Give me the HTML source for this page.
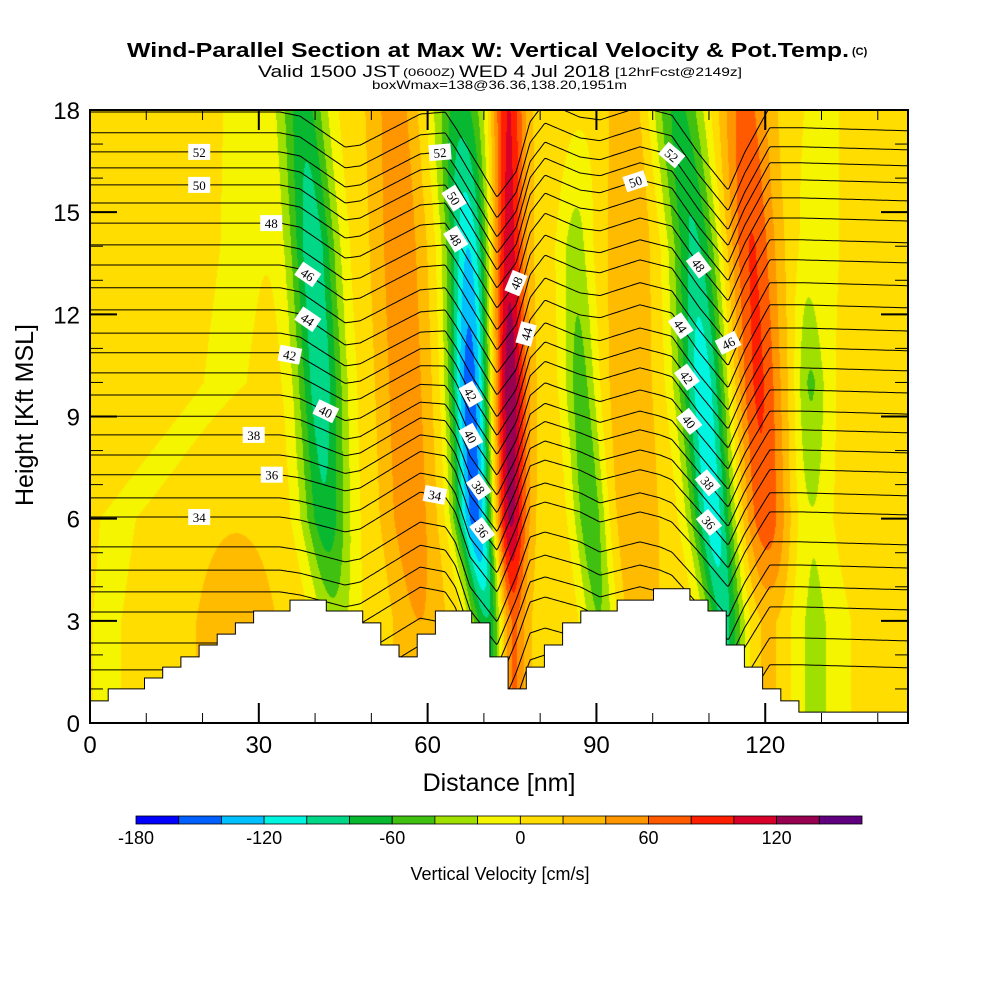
<!DOCTYPE html>
<html><head><meta charset="utf-8">
<style>
html,body{margin:0;padding:0;background:#fff;}
#wrap{position:relative;width:1000px;height:1000px;overflow:hidden;font-family:"Liberation Sans",sans-serif;}
#field{position:absolute;left:90px;top:110px;}
#ov{position:absolute;left:0;top:0;}
</style></head>
<body>
<div id="wrap">
<canvas id="field" width="818" height="613"></canvas>
<svg id="ov" width="1000" height="1000" xmlns="http://www.w3.org/2000/svg">
<defs><clipPath id="pc"><rect x="90" y="110" width="818" height="613"/></clipPath></defs>
<g id="isentropes" clip-path="url(#pc)"></g>
<path id="terrain" fill="#fff" stroke="#000" stroke-width="1"></path>
<g id="clabels"></g>
<g id="ticks"></g>
<rect x="90" y="110" width="818" height="613" fill="none" stroke="#000" stroke-width="2"/>
<g font-family="Liberation Sans, sans-serif" font-weight="bold">
<text x="127" y="57" font-size="20" textLength="722" lengthAdjust="spacingAndGlyphs">Wind-Parallel Section at Max W: Vertical Velocity &amp; Pot.Temp.</text>
<text x="852" y="55" font-size="11">(C)</text>
</g>
<g font-family="Liberation Sans, sans-serif">
<text x="258" y="77" font-size="17" textLength="142" lengthAdjust="spacingAndGlyphs">Valid 1500 JST</text>
<text x="403" y="76" font-size="11" textLength="52" lengthAdjust="spacingAndGlyphs">(0600Z)</text>
<text x="459" y="77" font-size="17" textLength="151" lengthAdjust="spacingAndGlyphs">WED 4 Jul 2018</text>
<text x="615" y="76" font-size="12" textLength="127" lengthAdjust="spacingAndGlyphs">[12hrFcst@2149z]</text>
<text x="372" y="89" font-size="12" textLength="255" lengthAdjust="spacingAndGlyphs">boxWmax=138@36.36,138.20,1951m</text>
</g>
<g id="axlabels" font-family="Liberation Sans, sans-serif" fill="#000"></g>
<text x="499" y="791" font-size="25" text-anchor="middle" font-family="Liberation Sans, sans-serif">Distance [nm]</text>
<text transform="translate(33,415) rotate(-90)" font-size="25" text-anchor="middle" font-family="Liberation Sans, sans-serif">Height [Kft MSL]</text>
<g id="cbar"></g>
<text x="500" y="880" font-size="18" text-anchor="middle" font-family="Liberation Sans, sans-serif">Vertical Velocity [cm/s]</text>
</svg>
</div>
<script>
// ---------- data ----------
const levelColors = ["#0000ff","#0060ff","#00c0ff","#00f5e0","#00d888","#08b830","#40c010","#a0e000","#f5f500","#ffdd00","#ffbb00","#ff9600","#ff5a00","#ff1e00","#d80028","#980050","#600080"];
const cbarTickValues = [-180,-120,-60,0,60,120];
const xTickValues = [0,30,60,90,120];
const yTickValues = [0,3,6,9,12,15,18];
const refKft = [18,14,10,6,3];
const backgroundW = 10;
const bandNames = ["A","B","C","D","E","F","G","H","I","Y1","O1","Y2"];
const bandCenters = [
 [37.9,39.6,40.9,41.8,43.5],[54.2,55.1,56.0,56.9,58.6],[65.8,67.2,67.5,68.4,71.1],[74.3,74.3,74.6,74.6,74.6],
 [87.1,86.2,87.1,88.9,90.6],[96,96,96,96.9,97.7],[104.5,107.5,108.9,110.7,112.8],[116.4,117.6,118.7,120,121.7],
 [127,127,128,128,128],[27.5,27,24,5,3],[26,26,26,26,26],[130,130,129,128,128]];
const bandPeaks = [
 [-80,-105,-105,-85,-40],[40,45,45,45,30],[-80,-130,-165,-160,-100],[95,105,128,122,80],
 [-5,-40,-60,-70,-50],[25,30,30,30,20],[-75,-95,-125,-125,-95],[58,72,75,65,25],
 [0,-5,-40,-15,-25],[-15,-15,-15,-15,-15],[0,0,0,8,22],[-15,-15,-15,-15,-12]];
const bandWidths = [
 [4.4,4.4,4.4,4.4,4],[4.5,4.5,4.5,4.5,4.5],[5,4,3.6,3.6,3.5],[3,3,3,3,2.8],
 [3,3,3,3,3],[4,4,4,4,4],[5,4.5,4.5,4,3.5],[4.5,4.5,4.5,4.5,4.5],
 [2,2,2.5,3,7],[6,6,6,5,4],[8,8,8,8,8],[5,5,5,5,5]];
const thetaLevels = [54,53,52,51,50,49,48,47,46,45,44,43,42,41,40,39,38,37,36,35,34,33,32,31,30,29,28];
const thetaBaseKft = [17.94,17.33,16.77,16.30,15.80,15.27,14.68,14.04,13.45,12.78,12.13,11.45,10.87,10.28,9.63,9.01,8.46,7.87,7.29,6.61,6.05,5.17,4.49,3.85,3.26,2.35,1.56];
const dispNodesNm = [0,33.77,37.32,45.35,48.02,58.68,63.12,64.90,67.53,72.33,75.71,78.2,80.86,87.08,90.63,97.73,101.3,103.4,108.2,113.4,116.4,120.8,126.2,145.4];
const dispUpperKft = [0,0,0.12,1.03,0.97,0.06,0,0.44,1.17,2.50,1.76,0.29,-0.29,0.15,0.23,-0.15,0,0.09,1.23,2.29,1.17,-0.15,-0.15,-0.06];
const dispLowerKft = [0,0,0.09,0.44,0.35,-0.73,-0.59,-0.15,1.17,2.20,0.88,-0.29,-0.44,-0.15,0.15,-0.15,0,0.15,1.03,2.06,1.03,-0.15,-0.15,-0.06];
const terrainKft = [0.65,1.0,1.0,1.32,1.64,1.94,2.29,2.61,2.94,3.29,3.29,3.61,3.61,3.29,3.29,2.94,2.29,1.94,2.61,3.29,3.29,2.94,1.94,1.0,1.64,2.29,2.94,3.29,3.29,3.61,3.61,3.94,3.94,3.61,3.29,2.29,1.64,1.0,0.65,0.32,0.32,0.32,0.32,0.32,0.32];
const labelTheta = [52,50,48,46,44,42,40,38,36,34,52,50,48,42,40,38,36,34,48,44,52,50,48,44,42,40,38,36,46];
const labelNm = [19.4,19.4,32.2,38.7,38.7,35.5,41.9,29.1,32.3,19.4,62.2,64.7,65.0,67.7,67.7,69.1,69.7,61.3,75.7,77.5,103.4,96.9,108.2,105.0,106.1,106.5,109.8,110.0,113.4];

// ---------- scales ----------
const PX0=90, PX1=908, PY0=723, PY1=110;
const XMAX=(PX1-PX0)/5.627;
const xs = nm => PX0 + nm*5.627;
const ys = k => PY0 - k*(PY0-PY1)/18;
const NS="http://www.w3.org/2000/svg";
function mk(tag, attrs, parent){const e=document.createElementNS(NS,tag);for(const k in attrs)e.setAttribute(k,attrs[k]);parent.appendChild(e);return e;}
function interpH(arr,k){ if(k>=refKft[0])return arr[0]; const n=refKft.length; if(k<=refKft[n-1])return arr[n-1];
 for(let i=0;i<n-1;i++){ if(k<=refKft[i]&&k>=refKft[i+1]){const t=(refKft[i]-k)/(refKft[i]-refKft[i+1]);return arr[i]+(arr[i+1]-arr[i])*t;} } return arr[n-1];}
function interpX(nodes,vals,x){ if(x<=nodes[0])return vals[0]; for(let i=0;i<nodes.length-1;i++){ if(x<=nodes[i+1]){const t=(x-nodes[i])/(nodes[i+1]-nodes[i]);return vals[i]+(vals[i+1]-vals[i])*t;} } return vals[vals.length-1];}

// ---------- field ----------
(function(){
 const cv=document.getElementById('field'); const ctx=cv.getContext('2d');
 const W=cv.width,H=cv.height; const img=ctx.createImageData(W,H);
 const rgb=levelColors.map(c=>[parseInt(c.substr(1,2),16),parseInt(c.substr(3,2),16),parseInt(c.substr(5,2),16)]);
 for(let py=0;py<H;py++){
  const k=(PY0-(PY1+py+0.5))*18/(PY0-PY1);
  const cs=[],ps=[],ws=[];
  for(let b=0;b<bandNames.length;b++){cs.push(interpH(bandCenters[b],k));ps.push(interpH(bandPeaks[b],k));ws.push(interpH(bandWidths[b],k));}
  for(let px=0;px<W;px++){
   const nm=(px+0.5)/5.627; let v=backgroundW;
   for(let b=0;b<cs.length;b++){const d=(nm-cs[b])/ws[b]; if(d>-4&&d<4) v+=ps[b]*Math.exp(-d*d);}
   let li=Math.floor((v+180)/20); if(li<0)li=0; if(li>16)li=16;
   const o=(py*W+px)*4; const c=rgb[li]; img.data[o]=c[0];img.data[o+1]=c[1];img.data[o+2]=c[2];img.data[o+3]=255;
  }
 }
 ctx.putImageData(img,0,0);
})();

// ---------- isentropes ----------
function thetaKft(i,nm){
 const base=thetaBaseKft[i]; let wU=(base-7)/5; wU=Math.max(0,Math.min(1,wU));
 const d=interpX(dispNodesNm,dispUpperKft,nm)*wU+interpX(dispNodesNm,dispLowerKft,nm)*(1-wU);
 return base-d;
}
const gI=document.getElementById('isentropes');
thetaLevels.forEach((th,i)=>{
 let d=''; for(let nm=0;nm<=XMAX+0.01;nm+=0.25){d+=(nm===0?'M':'L')+xs(nm).toFixed(1)+','+ys(thetaKft(i,nm)).toFixed(1);}
 const p=mk('path',{d:d,fill:'none',stroke:'#000','stroke-width':1},gI);
 
 
});

// ---------- terrain ----------
(function(){
 const cw=(PX1-PX0)/terrainKft.length; let d='M'+PX0+','+PY0;
 terrainKft.forEach((h,i)=>{const x0=PX0+i*cw,x1=x0+cw,y=ys(h);d+=' L'+x0.toFixed(1)+','+y.toFixed(1)+' L'+x1.toFixed(1)+','+y.toFixed(1);});
 d+=' L'+PX1+','+PY0+' Z';
 document.getElementById('terrain').setAttribute('d',d);
})();

// ---------- contour labels ----------
const gL=document.getElementById('clabels');
labelTheta.forEach((th,j)=>{
 const i=thetaLevels.indexOf(th); const nm=labelNm[j];
 const x=xs(nm), y=ys(thetaKft(i,nm));
 const y1=ys(thetaKft(i,nm-0.6)), y2=ys(thetaKft(i,nm+0.6));
 const ang=Math.atan2(y2-y1,xs(nm+0.6)-xs(nm-0.6))*180/Math.PI;
 const g=mk('g',{transform:'translate('+x.toFixed(1)+','+y.toFixed(1)+') rotate('+ang.toFixed(1)+')'},gL);
 
 
 mk('rect',{x:-11,y:-8,width:22,height:16,fill:'#fff'},g);
 const t=mk('text',{x:0,y:5,'text-anchor':'middle','font-size':13,'font-family':'Liberation Serif, serif'},g); t.textContent=th;
});

// ---------- ticks & axis labels ----------
const gT=document.getElementById('ticks'), gA=document.getElementById('axlabels');
for(let v=0;v<=145;v+=10){
 const x=xs(v); const major=(v%30===0); const L=major?20:10; const sw=major?2:1;
 mk('line',{x1:x,y1:PY0,x2:x,y2:PY0-L,stroke:'#000','stroke-width':sw},gT);
 mk('line',{x1:x,y1:PY1,x2:x,y2:PY1+L,stroke:'#000','stroke-width':sw},gT);
}
for(let v=0;v<=18;v+=1){
 const y=ys(v); const major=(v%3===0); const L=major?27:13; const sw=major?2:1;
 mk('line',{x1:PX0,y1:y,x2:PX0+L,y2:y,stroke:'#000','stroke-width':sw},gT);
 mk('line',{x1:PX1,y1:y,x2:PX1-L,y2:y,stroke:'#000','stroke-width':sw},gT);
}
xTickValues.forEach(v=>{const t=mk('text',{x:xs(v),y:753,'text-anchor':'middle','font-size':24},gA);t.textContent=v;
 
 });
yTickValues.forEach(v=>{const t=mk('text',{x:80,y:ys(v)+9,'text-anchor':'end','font-size':24},gA);t.textContent=v;
 
 });

// ---------- colorbar ----------
const gC=document.getElementById('cbar');
const CB0=136, CB1=862, segW=(CB1-CB0)/levelColors.length;
levelColors.forEach((c,i)=>{
 const r=mk('rect',{x:(CB0+i*segW).toFixed(1),y:816,width:segW.toFixed(1),height:8,fill:c,stroke:'#000','stroke-width':0.8},gC);
 
 
});
cbarTickValues.forEach(v=>{
 const x=CB0+(v+180)/20*segW;
 const t=mk('text',{x:x.toFixed(1),y:844,'text-anchor':'middle','font-size':18,'font-family':'Liberation Sans, sans-serif'},gC); t.textContent=v;
 
 
});
</script>
</body></html>
